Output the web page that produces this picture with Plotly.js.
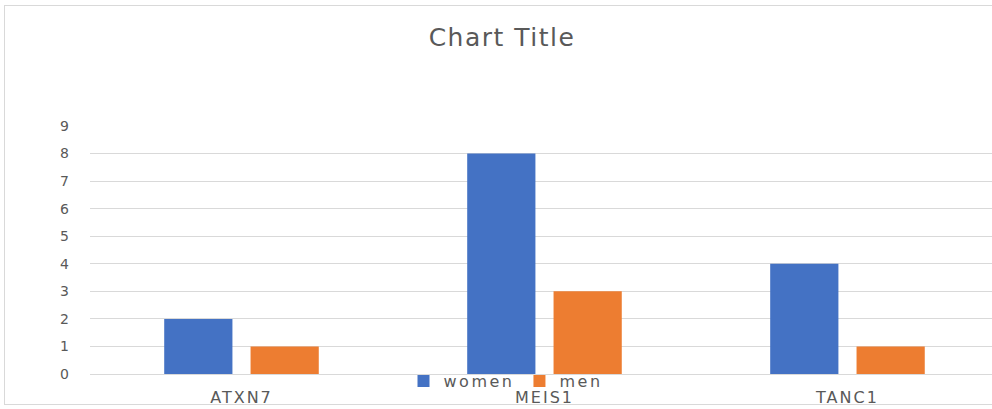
<!DOCTYPE html>
<html>
<head>
<meta charset="utf-8">
<script src="https://cdn.plot.ly/plotly-3.0.1.min.js"></script>
<style>
  html, body { margin: 0; padding: 0; background: #fff; }
  #wrap { position: relative; width: 992px; height: 409px; overflow: hidden; }
  #chart { width: 992px; height: 409px; }
  #frame { position: absolute; left: 4px; top: 5px; width: 1010px; height: 400px;
           border: 1.5px solid #d9d9d9; pointer-events: none; box-sizing: border-box; }
  .legendtext { letter-spacing: 2.5px; }
  .xtick text { letter-spacing: 2px; }
  .gtitle { letter-spacing: 1.5px; }
</style>
</head>
<body>
<div id="wrap">
  <div id="chart"></div>
  <div id="frame"></div>
</div>
<script>
const categories = ["ATXN7", "MEIS1", "TANC1"];
const women = [2, 8, 4];
const men = [1, 3, 1];
const seriesNames = ["women", "men"];
const yTicks = [0, 1, 2, 3, 4, 5, 6, 7, 8, 9];

const FONT = "DejaVu Sans, Open Sans, sans-serif";

// layout geometry (pixels)
const H = 409, TOP = 126, BOTTOM_MARGIN = 5, AXIS_Y = 374, LEGEND_TOP = 364, LEFT = 90;
const paperH = H - TOP - BOTTOM_MARGIN;
const paperW = 992 - LEFT;

const traces = [
  { type: "bar", name: seriesNames[0], x: categories, y: women,
    marker: { color: "#4472C4" }, hoverinfo: "none" },
  { type: "bar", name: seriesNames[1], x: categories, y: men,
    marker: { color: "#ED7D31" }, hoverinfo: "none" }
];

const layout = {
  width: 992, height: H,
  paper_bgcolor: "#ffffff", plot_bgcolor: "rgba(0,0,0,0)",
  margin: { l: LEFT, r: 0, t: TOP, b: BOTTOM_MARGIN, pad: 0 },
  barmode: "group", bargap: 0.43, bargroupgap: 0.21,
  title: { text: "Chart Title", x: 502 / 992, xref: "container", xanchor: "center",
           y: 1 - 37 / H, yref: "container", yanchor: "middle",
           font: { family: FONT, size: 25, color: "#595959" } },
  xaxis: { type: "category", range: [-0.5, 2.477], showgrid: false, zeroline: false,
           showline: true, linecolor: "#d9d9d9", linewidth: 1,
           ticks: "", ticklabelstandoff: 9,
           tickfont: { family: FONT, size: 16, color: "#595959" },
           fixedrange: true },
  yaxis: { domain: [(H - BOTTOM_MARGIN - AXIS_Y) / paperH, 1],
           range: [0, 9], tickvals: yTicks, ticktext: yTicks.map(String),
           showgrid: true, gridcolor: "#d9d9d9", gridwidth: 1,
           zeroline: false, showline: false, ticks: "", ticklabelstandoff: 20,
           tickfont: { family: FONT, size: 14, color: "#595959" },
           fixedrange: true },
  showlegend: true,
  legend: { orientation: "h", xref: "paper", yref: "paper",
            x: (506 - LEFT) / paperW, xanchor: "center",
            y: (H - BOTTOM_MARGIN - LEGEND_TOP) / paperH, yanchor: "top",
            font: { family: FONT, size: 16, color: "#595959" },
            bgcolor: "rgba(0,0,0,0)", itemwidth: 30, tracegroupgap: 0 }
};

Plotly.newPlot("chart", traces, layout, { displayModeBar: false, staticPlot: true });
</script>
</body>
</html>
